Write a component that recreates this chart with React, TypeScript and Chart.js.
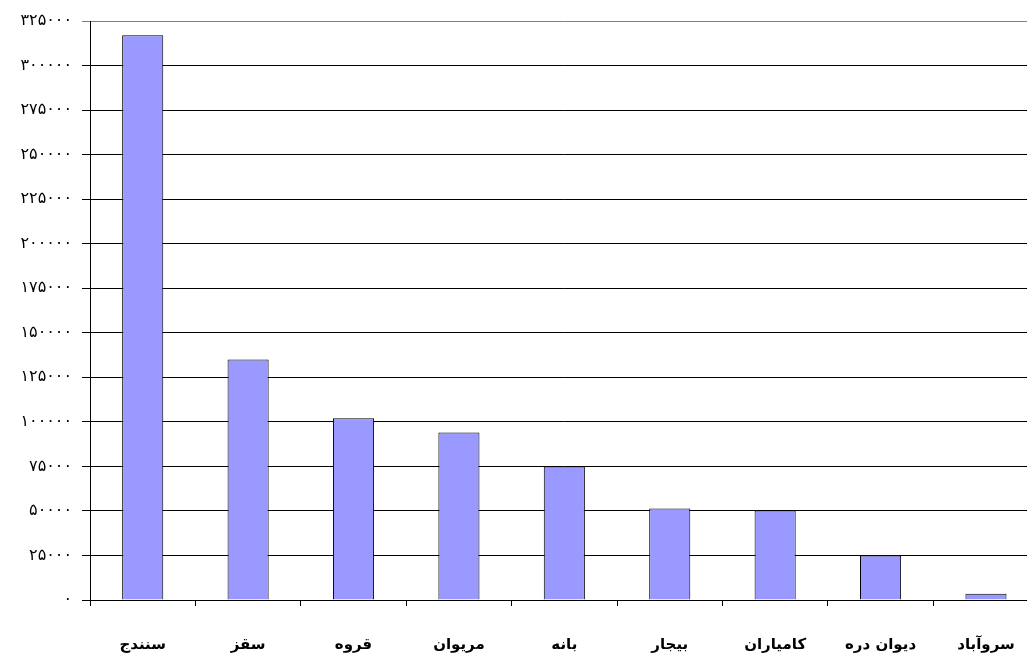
import React, { useEffect, useRef } from "react";
import { Chart, registerables } from "chart.js";

Chart.register(...registerables);

const categories = ["سنندج", "سقز", "قروه", "مریوان", "بانه", "بیجار", "کامیاران", "دیوان دره", "سروآباد"];
const population = [317000, 135000, 102000, 94000, 75000, 51300, 50200, 25000, 3500];
const yMin = 0;
const yMax = 325000;
const yStep = 25000;
const persianDigits = ["۰", "۱", "۲", "۳", "۴", "۵", "۶", "۷", "۸", "۹"];

const toPersian = (v: number) => String(v).replace(/\d/g, (d) => persianDigits[Number(d)]);

export default function App() {
  const ref = useRef<HTMLCanvasElement | null>(null);
  useEffect(() => {
    if (!ref.current) return;
    const chart = new Chart(ref.current, {
      type: "bar",
      data: {
        labels: categories,
        datasets: [
          {
            data: population,
            backgroundColor: "#9999FF",
            borderColor: "#000000",
            borderWidth: 1,
            categoryPercentage: 1,
            barPercentage: 0.39,
          },
        ],
      },
      options: {
        responsive: false,
        animation: false,
        layout: { padding: { top: 21, right: 5, left: 0, bottom: 0 } },
        plugins: { legend: { display: false }, tooltip: { enabled: false } },
        scales: {
          x: {
            afterFit: (scale: any) => {
              scale.height = 56;
            },
            grid: {
              offset: true,
              drawOnChartArea: false,
              drawTicks: true,
              tickLength: 6,
              color: "#000",
            },
            border: { color: "#000" },
            ticks: {
              color: "#000",
              font: { family: "DejaVu Sans", size: 15, weight: "bold" },
              padding: 30,
              maxRotation: 0,
              autoSkip: false,
            },
          },
          y: {
            min: yMin,
            max: yMax,
            afterFit: (scale: any) => {
              scale.width = 90;
            },
            grid: {
              tickLength: 8,
              color: (ctx: any) => (ctx.tick && ctx.tick.value === yMax ? "#808080" : "#000"),
            },
            border: { color: "#000" },
            ticks: {
              stepSize: yStep,
              color: "#000",
              padding: 10,
              font: { family: "DejaVu Sans", size: 16 },
              callback: (v: any) => toPersian(Number(v)),
            },
          },
        },
      },
    });
    return () => chart.destroy();
  }, []);
  return (
    <div
      style={{
        position: "fixed",
        left: 0,
        top: 0,
        width: 1027,
        height: 656,
        overflow: "hidden",
        background: "#fff",
      }}
    >
      <canvas ref={ref} width={1045} height={656} style={{ display: "block" }} />
    </div>
  );
}
